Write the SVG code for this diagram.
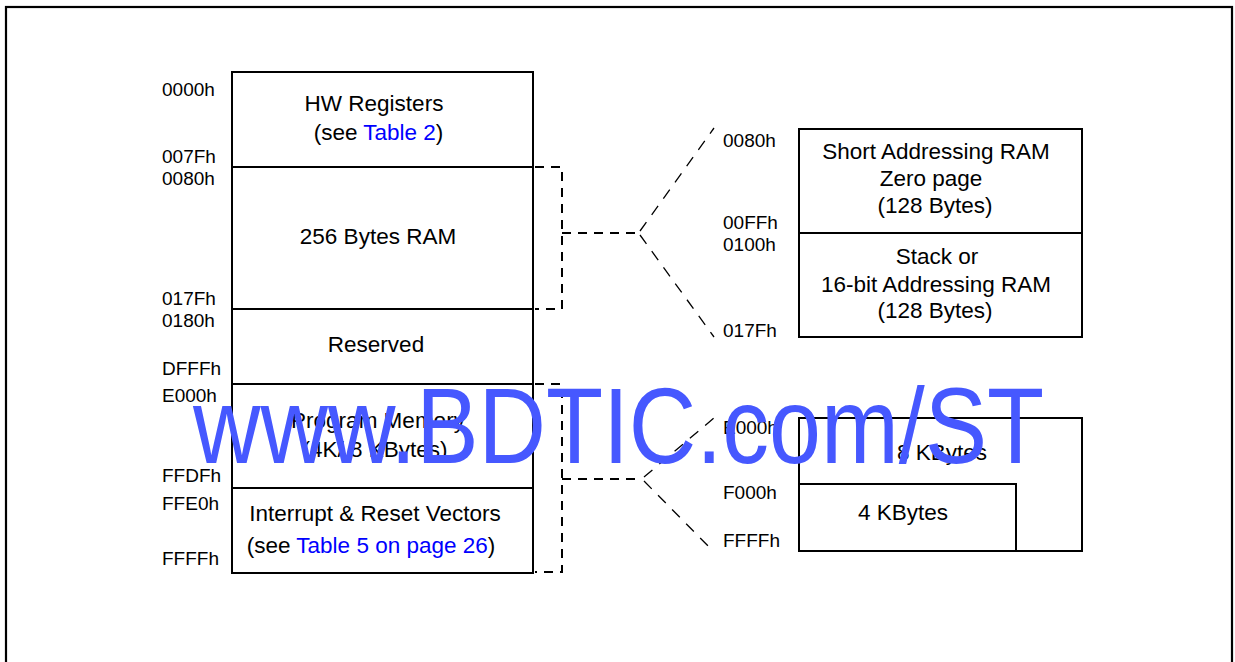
<svg xmlns="http://www.w3.org/2000/svg" width="1235" height="662" viewBox="0 0 1235 662">
<style>
.box{fill:none;stroke:#000;stroke-width:2}
.lbl{font-family:"Liberation Sans",Arial,sans-serif;font-size:19px;fill:#000}
.txt{font-family:"Liberation Sans",Arial,sans-serif;font-size:22.5px;fill:#000;text-anchor:middle}
.lnk{fill:#0000ff}
.br{fill:none;stroke:#000;stroke-width:2;stroke-dasharray:9 7}
.dg{fill:none;stroke:#000;stroke-width:1.3;stroke-dasharray:11 9}
.wm{font-family:"Liberation Sans",Arial,sans-serif;font-size:108px;fill:#4658ff}
</style>
<rect x="6" y="7" width="1226" height="700" fill="none" stroke="#000" stroke-width="2.2"/>

<g id="hw-registers">
<rect class="box" x="232" y="72" width="301" height="95"/>
<text class="txt" x="374" y="111">HW Registers</text>
<text class="txt" x="378.5" y="140">(see <tspan class="lnk">Table 2</tspan>)</text>
</g>
<g id="ram-256">
<rect class="box" x="232" y="167" width="301" height="142"/>
<text class="txt" x="378" y="244">256 Bytes RAM</text>
</g>
<g id="reserved">
<rect class="box" x="232" y="309" width="301" height="75"/>
<text class="txt" x="376" y="352">Reserved</text>
</g>
<g id="program-memory">
<rect class="box" x="232" y="384" width="301" height="104"/>
<text class="txt" x="378" y="428">Program Memory</text>
<text class="txt" x="375" y="457">(4K/ 8 KBytes)</text>
</g>
<g id="vectors">
<rect class="box" x="232" y="488" width="301" height="85"/>
<text class="txt" x="375" y="521">Interrupt &amp; Reset Vectors</text>
<text class="txt" x="371" y="553">(see <tspan class="lnk">Table 5 on page 26</tspan>)</text>
</g>

<g id="left-addresses">
<text class="lbl" x="162" y="96">0000h</text>
<text class="lbl" x="162" y="163">007Fh</text>
<text class="lbl" x="162" y="185">0080h</text>
<text class="lbl" x="162" y="305">017Fh</text>
<text class="lbl" x="162" y="327">0180h</text>
<text class="lbl" x="162" y="375">DFFFh</text>
<text class="lbl" x="162" y="402">E000h</text>
<text class="lbl" x="162" y="482">FFDFh</text>
<text class="lbl" x="162" y="510">FFE0h</text>
<text class="lbl" x="162" y="565">FFFFh</text>
</g>

<g id="zero-page">
<rect class="box" x="799" y="129" width="283" height="104"/>
<text class="txt" x="936" y="159">Short Addressing RAM</text>
<text class="txt" x="931" y="186">Zero page</text>
<text class="txt" x="935" y="213">(128 Bytes)</text>
</g>
<g id="stack">
<rect class="box" x="799" y="233" width="283" height="104"/>
<text class="txt" x="937" y="264">Stack or</text>
<text class="txt" x="936" y="292">16-bit Addressing RAM</text>
<text class="txt" x="935" y="318">(128 Bytes)</text>
</g>
<g id="kbytes-8">
<rect class="box" x="799" y="418" width="283" height="133"/>
<text class="txt" x="942" y="460">8 KBytes</text>
</g>
<g id="kbytes-4">
<rect class="box" x="799" y="484" width="217" height="67"/>
<text class="txt" x="903" y="520">4 KBytes</text>
</g>

<g id="right-addresses">
<text class="lbl" x="723" y="147">0080h</text>
<text class="lbl" x="723" y="229">00FFh</text>
<text class="lbl" x="723" y="251">0100h</text>
<text class="lbl" x="723" y="337">017Fh</text>
<text class="lbl" x="723" y="434">E000h</text>
<text class="lbl" x="723" y="499">F000h</text>
<text class="lbl" x="723" y="547">FFFFh</text>
</g>

<g id="connectors">
<polyline class="br" points="535,167 562,167 562,309 535,309"/>
<line class="br" x1="562" y1="233" x2="638" y2="233"/>
<line class="dg" x1="640" y1="231" x2="714" y2="128"/>
<line class="dg" x1="640" y1="235" x2="714" y2="337"/>
<polyline class="br" points="535,384 562,384 562,572 535,572"/>
<line class="br" x1="562" y1="479" x2="642" y2="479"/>
<line class="dg" x1="644" y1="477" x2="714" y2="418"/>
<line class="dg" x1="644" y1="481" x2="714" y2="552"/>
</g>

<text class="wm" x="193" y="463" textLength="851" lengthAdjust="spacingAndGlyphs">www.BDTIC.com/ST</text>
</svg>
